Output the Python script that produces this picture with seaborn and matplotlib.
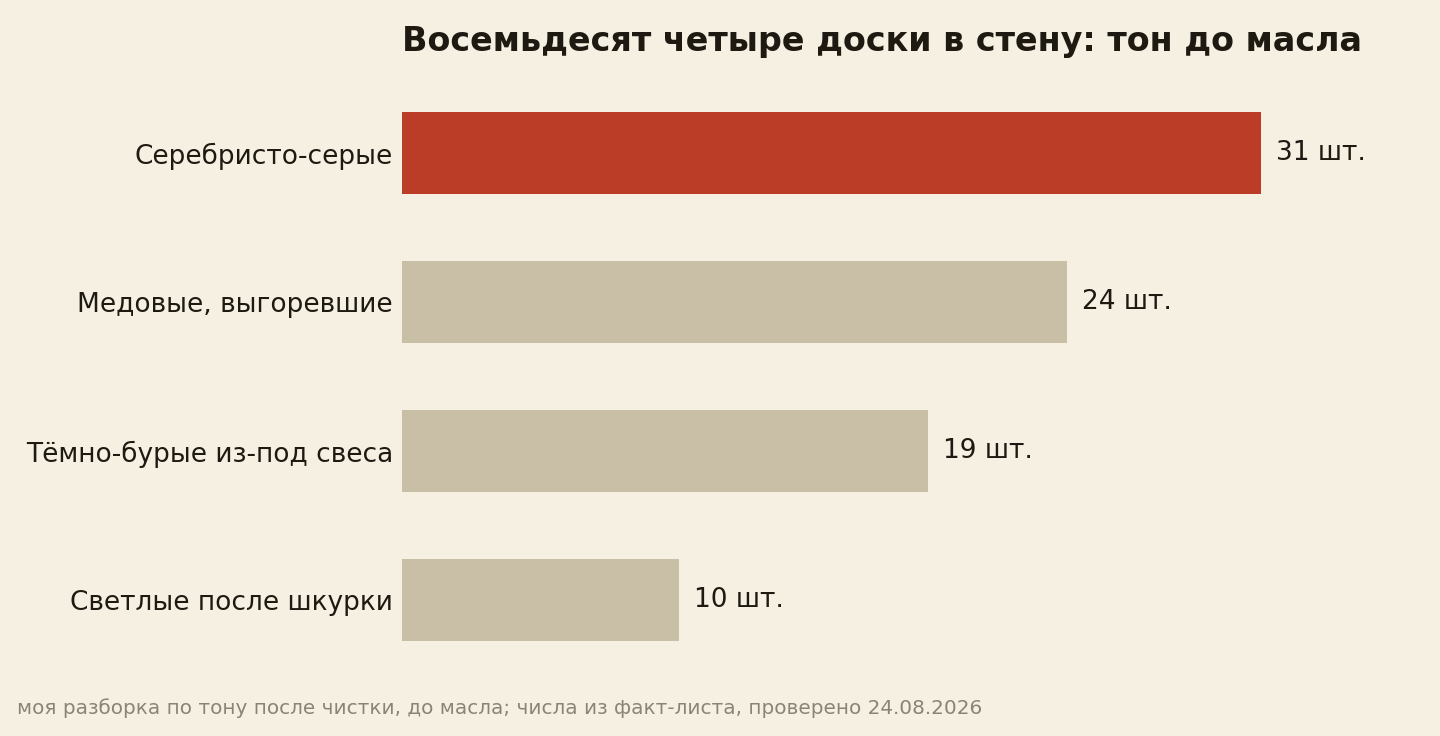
import matplotlib
matplotlib.use("Agg")
import matplotlib.pyplot as plt
import seaborn as sns
import pandas as pd

categories = ["Серебристо-серые", "Медовые, выгоревшие", "Тёмно-бурые из-под свеса", "Светлые после шкурки"]
counts = [31, 24, 19, 10]
value_labels = ["31 шт.", "24 шт.", "19 шт.", "10 шт."]
title = "Восемьдесят четыре доски в стену: тон до масла"
footer = "моя разборка по тону после чистки, до масла; числа из факт-листа, проверено 24.08.2026"

BG = "#F6F0E3"
RED = "#BC3D27"
BEIGE = "#C9BFA6"
TEXT = "#1E1A12"
GRAY = "#8A8475"

sns.set_theme(style="white")
plt.rcParams["font.family"] = ["DejaVu Sans"]

df = pd.DataFrame({"cat": categories, "n": counts})
palette = [RED] + [BEIGE] * (len(categories) - 1)

fig = plt.figure(figsize=(14.4, 7.36), dpi=100, facecolor=BG)
ax = fig.add_axes([402 / 1440, 1 - 674.5 / 736, (1400 - 402) / 1440, (674.5 - 78.5) / 736])
ax.set_facecolor(BG)
sns.barplot(data=df, x="n", y="cat", hue="cat", palette=palette, legend=False,
            width=0.55, ax=ax, saturation=1, orient="h", linewidth=0)
ax.set_xlim(0, 36.02)
ax.set_ylim(3.5, -0.5)
for s in ax.spines.values():
    s.set_visible(False)
ax.set_xticks([])
ax.set_xlabel("")
ax.set_ylabel("")
ax.tick_params(axis="y", length=0, pad=6.5, labelsize=19, labelcolor=TEXT)

for i, (v, lab) in enumerate(zip(counts, value_labels)):
    ax.annotate(lab, xy=(v, i), xytext=(15, 0), textcoords="offset pixels",
                va="center", ha="left", fontsize=19, color=TEXT)

fig.text(402 / 1440, 1 - 41.5 / 736, title, fontsize=24, fontweight="bold", color=TEXT,
         ha="left", va="center")
fig.text(17 / 1440, 1 - 708 / 736, footer, fontsize=14.4, color=GRAY, ha="left", va="center")

fig.savefig("out.png", dpi=100, facecolor=BG)
